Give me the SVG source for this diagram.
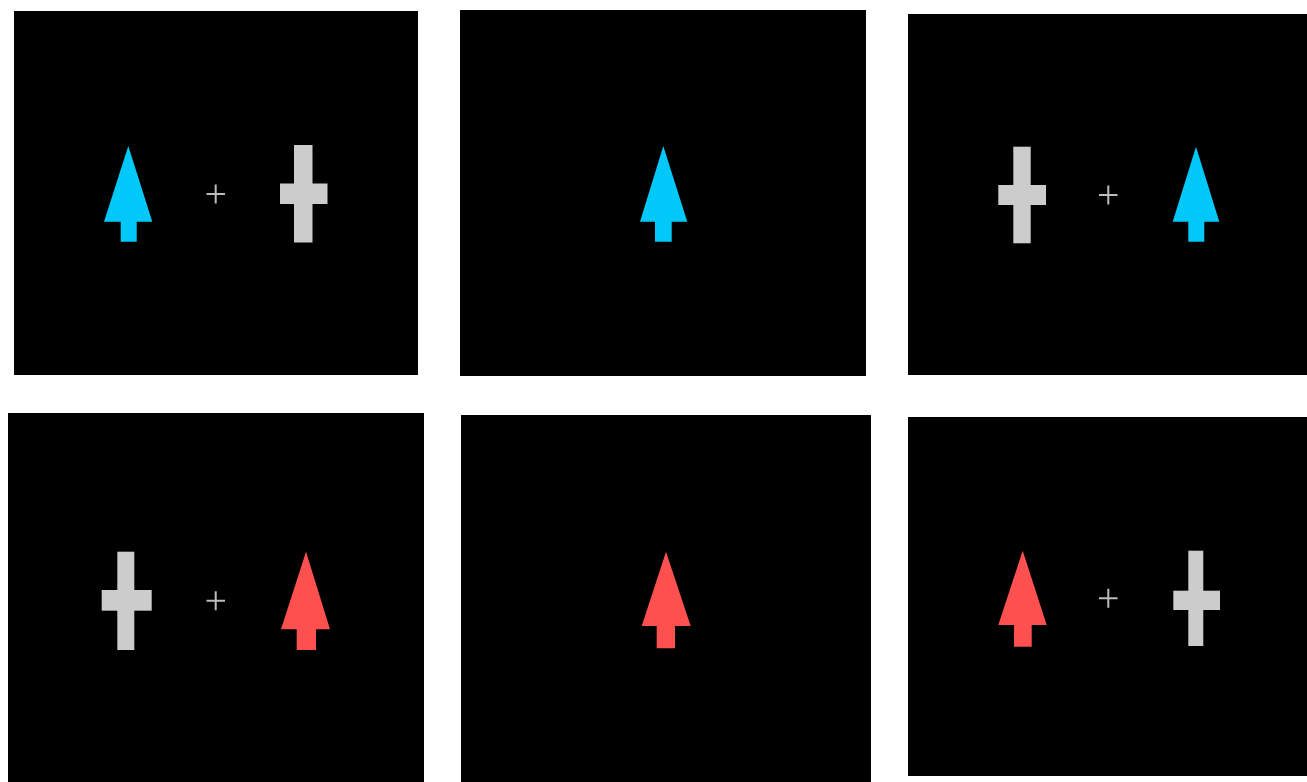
<svg xmlns="http://www.w3.org/2000/svg" width="1307" height="782" viewBox="0 0 1307 782">
<style>
.panel{fill:#000000}
.cyan{fill:#00c8f8}
.red{fill:#ff5050}
.cross{fill:#cccccc}
.fix{stroke:#bdbdbd;stroke-width:2;fill:none}
</style>
<rect x="0" y="0" width="1307" height="782" fill="#ffffff"/>
<g id="panel1">
<rect class="panel" x="14" y="11" width="404" height="364"/>
<polygon class="cyan" points="128.3,146 152.3,221.7 136.7,221.7 136.7,241.7 120.7,241.7 120.7,221.7 104,221.7"/>
<path class="fix" d="M206.5,194 H225 M215.7,184.5 V203.5"/>
<rect class="cross" x="294" y="145" width="18.5" height="97.5"/>
<rect class="cross" x="280" y="183.5" width="47.5" height="20.5"/>
</g>
<g id="panel2">
<rect class="panel" x="460" y="10" width="406" height="366"/>
<polygon class="cyan" points="663.3,146 687.3,221.7 671.7,221.7 671.7,241.7 655,241.7 655,221.7 640,221.7"/>
</g>
<g id="panel3">
<rect class="panel" x="908" y="14" width="399" height="361"/>
<rect class="cross" x="1013.3" y="146.7" width="17.4" height="96.6"/>
<rect class="cross" x="998.3" y="185" width="47.7" height="20"/>
<path class="fix" d="M1099,195 H1117.5 M1108.3,185.5 V204.5"/>
<polygon class="cyan" points="1196,146.7 1219.3,221.7 1204.3,221.7 1204.3,241.7 1188.3,241.7 1188.3,221.7 1172.7,221.7"/>
</g>
<g id="panel4">
<rect class="panel" x="8" y="413" width="416" height="369"/>
<rect class="cross" x="117.3" y="551.7" width="17" height="98.3"/>
<rect class="cross" x="101.7" y="590" width="50" height="20.7"/>
<path class="fix" d="M206.5,600.7 H225 M215.7,591.2 V610.2"/>
<polygon class="red" points="306,551.7 330,629.3 316,629.3 316,650 296.7,650 296.7,629.3 281,629.3"/>
</g>
<g id="panel5">
<rect class="panel" x="461" y="415" width="410" height="367"/>
<polygon class="red" points="666,551.7 690.7,626 675,626 675,648.3 656.7,648.3 656.7,626 641.7,626"/>
</g>
<g id="panel6">
<rect class="panel" x="908" y="417" width="399" height="359"/>
<polygon class="red" points="1022.7,550.7 1046.7,625 1031.7,625 1031.7,646.7 1014,646.7 1014,625 998.3,625"/>
<path class="fix" d="M1099,598.3 H1117.5 M1108.3,588.8 V607.8"/>
<rect class="cross" x="1188.3" y="550.7" width="15" height="95.3"/>
<rect class="cross" x="1173.3" y="590.7" width="46.7" height="19.3"/>
</g>
<g id="connectors"></g>
</svg>
